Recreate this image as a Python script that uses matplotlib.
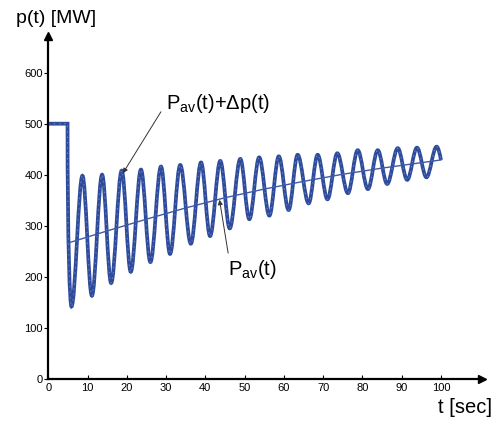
import matplotlib
matplotlib.use('Agg')
import matplotlib.pyplot as plt
from matplotlib.path import Path
from matplotlib.patches import PathPatch

plt.rcParams['font.family'] = ['Liberation Sans', 'DejaVu Sans']

# 데이터
step_t = [0, 4.9]
step_p = [500, 500]

# 진동 곡선의 극값 (시간, 값)
ext_t = [5.9, 8.7, 11.1, 13.7, 16.0, 18.7, 21.0, 23.6, 26.0, 28.7, 31.0, 33.6,
         36.3, 38.9, 41.2, 43.8, 46.2, 48.9, 51.2, 53.7, 56.3, 58.7, 61.2, 63.5,
         66.3, 68.6, 71.1, 73.6, 76.3, 78.8, 81.4, 83.9, 86.3, 89.0, 91.4, 93.9,
         96.3, 98.9]
ext_p = [142, 398, 163, 400, 188, 408, 210, 410, 229, 416, 245, 419,
         265, 424, 280, 427, 295, 431, 313, 434, 320, 436, 331, 439,
         344, 439, 352, 442, 364, 448, 372, 448, 382, 452, 390, 453,
         395, 455]
end_t, end_p = 100, 429

# 평균 출력 P_av(t)
avg_t = [4.9, 15, 25, 35, 45, 55, 65, 75, 85, 100]
avg_p = [266, 290, 313, 335, 355, 372, 387, 401, 413, 429]

xticks = list(range(0, 101, 10))
yticks = list(range(0, 601, 100))

# 그림
fig = plt.figure(figsize=(5.0, 4.21), dpi=100)
ax = fig.add_axes([0.0966, 0.0998, 0.867, 0.815])
ax.set_xlim(0, 110.4)
ax.set_ylim(0, 672)

blue = '#2f4c9c'

# 베지어 경로로 진동 곡선 구성
verts = [(step_t[0], step_p[0]), (step_t[1], step_p[1])]
codes = [Path.MOVETO, Path.LINETO]
verts += [(step_t[1], 260), (ext_t[0] - 0.4, ext_p[0]), (ext_t[0], ext_p[0])]
codes += [Path.CURVE4] * 3
k = 0.36
for i in range(1, len(ext_t)):
    t0, p0 = ext_t[i - 1], ext_p[i - 1]
    t1, p1 = ext_t[i], ext_p[i]
    dt = t1 - t0
    verts += [(t0 + k * dt, p0), (t1 - k * dt, p1), (t1, p1)]
    codes += [Path.CURVE4] * 3
t0, p0 = ext_t[-1], ext_p[-1]
verts += [(t0 + 0.4, p0), (end_t - 0.3, end_p + 12), (end_t, end_p)]
codes += [Path.CURVE4] * 3

path = Path(verts, codes)
ax.add_patch(PathPatch(path, fill=False, edgecolor=blue, lw=2.7, capstyle='butt'))
ax.add_patch(PathPatch(path, fill=False, edgecolor='#7f93cc', lw=0.7,
                       linestyle=(0, (1.5, 4)), alpha=0.8))

ax.plot(avg_t, avg_p, color='#3d5ba9', lw=1.0)

# 주석
ax.annotate('P$_{\\mathregular{av}}$(t)+Δp(t)', xy=(19.0, 403), xytext=(30.0, 539),
            fontsize=14.5, va='center', ha='left',
            arrowprops=dict(arrowstyle='-|>', color='#333333', lw=0.7,
                            mutation_scale=7, shrinkA=0, shrinkB=0,
                            relpos=(-0.05, 0.15)))
ax.annotate('P$_{\\mathregular{av}}$(t)', xy=(43.6, 351), xytext=(45.8, 215),
            fontsize=14.5, va='center', ha='left',
            arrowprops=dict(arrowstyle='-|>', color='#333333', lw=0.7,
                            mutation_scale=7, shrinkA=0, shrinkB=0,
                            relpos=(0, 1.2)))

# 축 설정
for s in ['top', 'right']:
    ax.spines[s].set_visible(False)
for s in ['left', 'bottom']:
    ax.spines[s].set_linewidth(1.6)
ax.set_xticks(xticks)
ax.set_yticks(yticks)
ax.tick_params(axis='x', direction='in', length=3, labelsize=8, pad=3)
ax.tick_params(axis='y', direction='out', length=3, labelsize=8, pad=1)
ax.plot(1, 0, '>k', ms=6, transform=ax.get_yaxis_transform(), clip_on=False)
ax.plot(0, 1, '^k', ms=6, transform=ax.get_xaxis_transform(), clip_on=False)

fig.text(0.033, 0.955, 'p(t) [MW]', fontsize=14, va='center', ha='left')
fig.text(0.985, 0.033, 't [sec]', fontsize=14.5, va='center', ha='right')

plt.savefig('out.png', dpi=100)
